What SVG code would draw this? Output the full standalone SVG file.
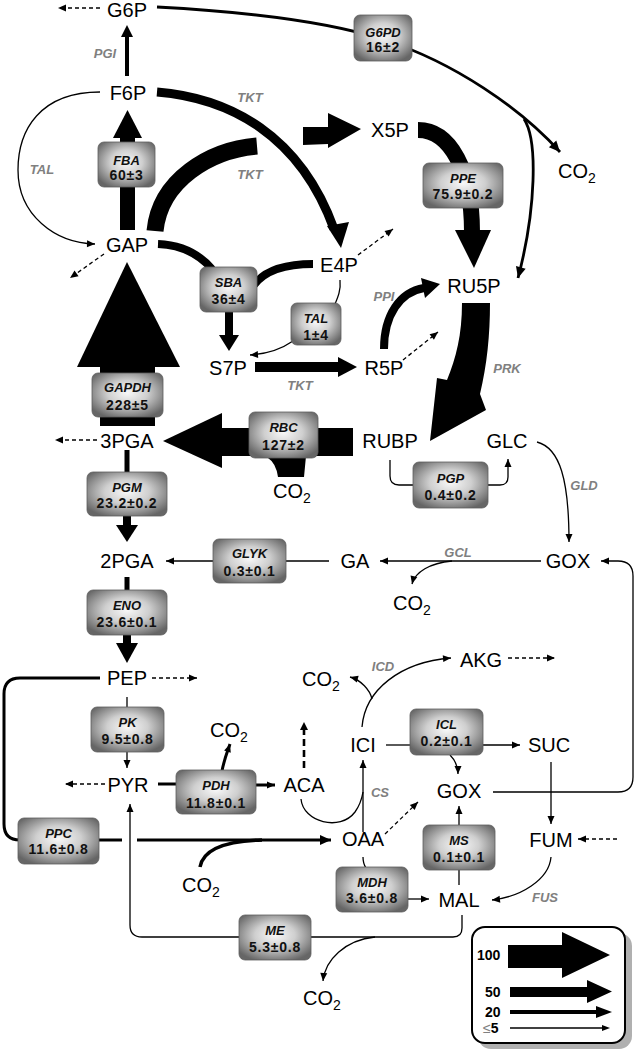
<svg xmlns="http://www.w3.org/2000/svg" width="637" height="1050" viewBox="0 0 637 1050">
<defs>
<radialGradient id="bg" cx="50%" cy="45%" r="62%">
<stop offset="0" stop-color="#f8f8f8"/>
<stop offset="0.45" stop-color="#cfcfcf"/>
<stop offset="1" stop-color="#666"/>
</radialGradient>
<marker id="a1" markerUnits="userSpaceOnUse" markerWidth="9" markerHeight="8" refX="8" refY="3.5" orient="auto" overflow="visible">
<path d="M0,0 L8,3.5 L0,7 Z" fill="#000"/>
</marker>
<marker id="a2" markerUnits="userSpaceOnUse" markerWidth="13" markerHeight="12" refX="11" refY="5" orient="auto" overflow="visible">
<path d="M0,0 L11,5 L0,10 Z" fill="#000"/>
</marker>
<style>
.n{font-family:"Liberation Sans",Arial,sans-serif;font-size:20px;fill:#000;text-anchor:middle}
.c{font-family:"Liberation Sans",Arial,sans-serif;font-size:20px;fill:#000}
.e{font-family:"Liberation Sans",Arial,sans-serif;font-size:13px;font-style:italic;font-weight:bold;fill:#808080;text-anchor:middle}
.bn{font-family:"Liberation Sans",Arial,sans-serif;font-size:13px;font-style:italic;font-weight:bold;fill:#111;text-anchor:middle}
.bv{font-family:"Liberation Sans",Arial,sans-serif;font-size:14px;font-weight:bold;fill:#111;text-anchor:middle;letter-spacing:0.8px}
.box{fill:url(#bg);stroke:#5e5e5e;stroke-width:0.8}
.t{fill:none;stroke:#000;stroke-width:1.3}
.m{fill:none;stroke:#000;stroke-width:3}
.d{fill:none;stroke:#000;stroke-width:1.3;stroke-dasharray:4,3}
.k{fill:none;stroke:#000;stroke-linecap:butt}
.lg{font-family:"Liberation Sans",Arial,sans-serif;font-size:14px;font-weight:bold;fill:#000}
</style>
</defs>
<rect width="637" height="1050" fill="#fff"/>

<g id="connectors">
<path class="d" d="M100,8 L58,8" marker-end="url(#a1)"/>
<path class="d" d="M104,254 L70,278" marker-end="url(#a1)"/>
<path class="d" d="M358,255 L393,229" marker-end="url(#a1)"/>
<path class="d" d="M403,360 L438,332" marker-end="url(#a1)"/>
<path class="d" d="M97,440 L55,440" marker-end="url(#a1)"/>
<path class="d" d="M152,678 L197,678" marker-end="url(#a1)"/>
<path class="d" d="M105,784 L65,784" marker-end="url(#a1)"/>
<path class="d" d="M508,658 L555,658" marker-end="url(#a1)"/>
<path class="d" d="M617,839 L578,839" marker-end="url(#a1)"/>
<path class="d" d="M385,834 L418,802" marker-end="url(#a1)"/>
<path fill="none" stroke="#000" stroke-width="2.6" stroke-dasharray="7,4" d="M304,768 L304,728"/>
<path d="M300,730 L304,722 L308,730 Z" fill="#000"/>

<path class="k" stroke-width="4" d="M127,76 L127,36"/>
<path d="M121,37 L127,25 L133,37 Z" fill="#000"/>

<path fill="none" stroke="#000" stroke-width="2.8" d="M157,7 C250,12 330,22 385,40 C455,63 520,108 560,152" marker-end="url(#a2)"/>
<path fill="none" stroke="#000" stroke-width="2.8" d="M524,119 C538,140 536,210 518,278" marker-end="url(#a2)"/>

<path class="t" d="M100,92 C40,92 18,130 18,170 C18,215 55,243 95,244" marker-end="url(#a1)"/>

<path class="k" stroke-width="9" d="M157,92 C230,98 300,135 334,229"/>
<path d="M327,226 L349,222 L341,248 Z" fill="#000"/>

<rect x="120" y="136" width="15" height="94" fill="#000"/>
<path d="M113,138 L142,138 L127.5,110 Z" fill="#000"/>

<path class="k" stroke-width="17" d="M155,231 C160,180 210,150 257,146"/>
<path d="M303,127 L328,127 L328,113 L361,129 L328,148 L328,144 L303,145 Z" fill="#000"/>

<path class="k" stroke-width="16" d="M418,130 C450,130 472,170 472,232"/>
<path d="M455,230 L491,230 L474,268 Z" fill="#000"/>

<path class="k" stroke-width="8" d="M158,244 C183,245 200,255 212,269"/>
<path class="k" stroke-width="8" d="M313,264 C285,264 265,270 254,285"/>
<rect x="225" y="311" width="8" height="25" fill="#000"/>
<path d="M219,335 L239,335 L229,351 Z" fill="#000"/>

<path class="t" d="M340,280 C341,290 338,297 335,304"/>
<path class="t" d="M293,341 C280,350 266,354 250,355" marker-end="url(#a1)"/>

<rect x="255" y="362" width="84" height="10" fill="#000"/>
<path d="M338,357 L357,367 L338,377 Z" fill="#000"/>

<path class="k" stroke-width="8" d="M384,349 C384,315 400,292 424,288"/>
<path d="M421,278 L440,284 L425,298 Z" fill="#000"/>

<path d="M462,303 L490,303 C490,335 487,365 480,394 L486,410 L430,441 L437,378 L447,380 C456,358 462,335 462,303 Z" fill="#000"/>

<rect x="100" y="365" width="55" height="61" fill="#000"/>
<path d="M77,367 L180,367 L127,262 Z" fill="#000"/>

<rect x="221" y="428" width="132" height="28" fill="#000"/>
<path d="M222,413 L222,468 L163,441 Z" fill="#000"/>
<path d="M268,456 L306,456 L304,477 L278,477 Q276,463 268,458 Z" fill="#000"/>

<path class="k" stroke-width="5" d="M127,450 L127,473"/>
<rect x="123" y="515" width="8" height="11" fill="#000"/>
<path d="M116,525 L138,525 L127,542 Z" fill="#000"/>

<path class="t" d="M329,561 L286,561"/>
<path class="t" d="M213,561 L166,561" marker-end="url(#a1)"/>
<path class="t" d="M541,561 L380,561" marker-end="url(#a1)"/>
<path class="t" d="M452,561 C430,563 415,572 412,584" marker-end="url(#a1)"/>
<path class="t" d="M537,442 C560,448 569,480 569,542" marker-end="url(#a1)"/>

<path class="k" stroke-width="5" d="M127,577 L127,591"/>
<rect x="123" y="634" width="8" height="10" fill="#000"/>
<path d="M116,643 L138,643 L127,663 Z" fill="#000"/>

<path class="m" d="M100,678 L20,678 Q4,678 4,694 L4,824 Q4,840 20,840"/>
<path class="m" d="M99,840 L122,840"/>
<path class="m" d="M137,840 L331,840" marker-end="url(#a2)"/>
<path fill="none" stroke="#000" stroke-width="3.5" d="M200,867 C203,850 225,841 262,840"/>

<path class="t" stroke-width="1.5" d="M127,697 L127,708"/>
<path class="t" d="M127,752 L127,768" marker-end="url(#a1)"/>

<path class="m" d="M158,784 L177,784"/>
<path class="m" d="M255,785 L275,785" marker-end="url(#a1)"/>
<path class="m" d="M222,771 C224,760 227,753 230,744" marker-end="url(#a1)"/>

<path class="t" d="M301,799 C303,822 340,832 355,812 C360,805 362,798 363,792"/>
<path class="t" stroke-width="1.5" d="M363,832 L363,760" marker-end="url(#a1)"/>

<path class="t" stroke-width="1.5" d="M362,727 C365,690 400,662 451,658" marker-end="url(#a1)"/>
<path class="t" stroke-width="1.5" d="M372,699 C370,690 361,680 350,677" marker-end="url(#a1)"/>

<path class="t" stroke-width="1.5" d="M386,745 L411,745"/>
<path class="t" stroke-width="1.5" d="M482,745 L520,745" marker-end="url(#a1)"/>
<path class="t" stroke-width="1.5" d="M450,755 C455,760 458,765 458,774" marker-end="url(#a1)"/>

<path class="t" d="M551,762 L551,824" marker-end="url(#a1)"/>

<path class="t" d="M493,792 L618,792 Q633,792 633,777 L633,576 Q633,561 618,561 L601,561" marker-end="url(#a1)"/>

<path class="t" d="M551,857 C549,880 520,897 492,900" marker-end="url(#a1)"/>

<path class="t" d="M459,885 L459,869"/>
<path class="t" d="M459,826 L459,806" marker-end="url(#a1)"/>

<path class="t" d="M363,857 C363,862 364,865 366,868"/>
<path class="t" d="M407,899 L429,899" marker-end="url(#a1)"/>

<path class="t" d="M462,915 L462,928 Q462,937 453,937 L311,937"/>
<path class="t" d="M240,937 L142,937 Q130,937 130,925 L130,804" marker-end="url(#a1)"/>
<path class="t" d="M375,937 C345,940 325,960 323,981" marker-end="url(#a1)"/>

<path class="t" d="M390,460 L390,476 Q390,485 399,485 L414,485"/>
<path class="t" d="M487,485 L500,485 Q508,485 508,477 L508,459" marker-end="url(#a1)"/>
</g>

<g id="enzymes">
<g id="G6PD"><rect class="box" x="354" y="15" width="58" height="46" rx="6"/><text class="bn" x="383" y="36.6">G6PD</text><text class="bv" x="383" y="52">16±2</text></g>
<g id="FBA"><rect class="box" x="98" y="142" width="57" height="45" rx="6"/><text class="bn" x="126.5" y="164.6">FBA</text><text class="bv" x="126.5" y="180">60±3</text></g>
<g id="PPE"><rect class="box" x="423" y="163" width="80" height="45" rx="6"/><text class="bn" x="463" y="182.6">PPE</text><text class="bv" x="463" y="199">75.9±0.2</text></g>
<g id="SBA"><rect class="box" x="200" y="267" width="57" height="45" rx="6"/><text class="bn" x="228.5" y="286.6">SBA</text><text class="bv" x="228.5" y="304">36±4</text></g>
<g id="TAL"><rect class="box" x="291" y="303" width="50" height="42" rx="6"/><text class="bn" x="316" y="322.6">TAL</text><text class="bv" x="316" y="340">1±4</text></g>
<g id="GAPDH"><rect class="box" x="92" y="373" width="71" height="44" rx="6"/><text class="bn" x="127.5" y="391.6">GAPDH</text><text class="bv" x="127.5" y="410">228±5</text></g>
<g id="RBC"><rect class="box" x="249" y="412" width="69" height="46" rx="6"/><text class="bn" x="283.5" y="432.2">RBC</text><text class="bv" x="283.5" y="450">127±2</text></g>
<g id="PGP"><rect class="box" x="413" y="462" width="75" height="46" rx="6"/><text class="bn" x="450.5" y="482.6">PGP</text><text class="bv" x="450.5" y="500">0.4±0.2</text></g>
<g id="PGM"><rect class="box" x="87" y="472" width="80" height="44" rx="6"/><text class="bn" x="127" y="491.6">PGM</text><text class="bv" x="127" y="508">23.2±0.2</text></g>
<g id="GLYK"><rect class="box" x="213" y="539" width="73" height="44" rx="6"/><text class="bn" x="249.5" y="557.6">GLYK</text><text class="bv" x="249.5" y="576">0.3±0.1</text></g>
<g id="ENO"><rect class="box" x="87" y="590" width="80" height="45" rx="6"/><text class="bn" x="127" y="609.6">ENO</text><text class="bv" x="127" y="627">23.6±0.1</text></g>
<g id="PK"><rect class="box" x="91" y="707" width="73" height="45" rx="6"/><text class="bn" x="127.5" y="726.6">PK</text><text class="bv" x="127.5" y="744">9.5±0.8</text></g>
<g id="ICL"><rect class="box" x="410" y="709" width="73" height="46" rx="6"/><text class="bn" x="446.5" y="728.6">ICL</text><text class="bv" x="446.5" y="746">0.2±0.1</text></g>
<g id="PDH"><rect class="box" x="176" y="770" width="80" height="44" rx="6"/><text class="bn" x="216" y="789.6">PDH</text><text class="bv" x="216" y="808">11.8±0.1</text></g>
<g id="PPC"><rect class="box" x="18" y="818" width="81" height="46" rx="6"/><text class="bn" x="58.5" y="837.6">PPC</text><text class="bv" x="58.5" y="854">11.6±0.8</text></g>
<g id="MS"><rect class="box" x="423" y="825" width="72" height="45" rx="6"/><text class="bn" x="459" y="844.6">MS</text><text class="bv" x="459" y="862">0.1±0.1</text></g>
<g id="MDH"><rect class="box" x="336" y="867" width="72" height="45" rx="6"/><text class="bn" x="372" y="886.6">MDH</text><text class="bv" x="372" y="903">3.6±0.8</text></g>
<g id="ME"><rect class="box" x="239" y="915" width="72" height="45" rx="6"/><text class="bn" x="275" y="934.6">ME</text><text class="bv" x="275" y="952">5.3±0.8</text></g>
</g>

<g id="labels">
<text class="e" x="105" y="57.5">PGI</text>
<text class="e" x="250" y="102">TKT</text>
<text class="e" x="42" y="174">TAL</text>
<text class="e" x="250" y="179">TKT</text>
<text class="e" x="300" y="390">TKT</text>
<text class="e" x="384" y="300.5">PPI</text>
<text class="e" x="507" y="372.5">PRK</text>
<text class="e" x="584" y="490">GLD</text>
<text class="e" x="458" y="556.5">GCL</text>
<text class="e" x="383" y="670.5">ICD</text>
<text class="e" x="380" y="796.5">CS</text>
<text class="e" x="545" y="901.5">FUS</text>
</g>

<g id="metabolites">
<g id="n-G6P"><text class="n" x="127" y="16.5">G6P</text></g>
<g id="n-F6P"><text class="n" x="128" y="100">F6P</text></g>
<g id="n-GAP"><text class="n" x="127" y="252">GAP</text></g>
<g id="n-X5P"><text class="n" x="390" y="137">X5P</text></g>
<g id="n-E4P"><text class="n" x="339" y="272">E4P</text></g>
<g id="n-RU5P"><text class="n" x="474" y="293">RU5P</text></g>
<g id="n-S7P"><text class="n" x="228" y="375">S7P</text></g>
<g id="n-R5P"><text class="n" x="384" y="375">R5P</text></g>
<g id="n-3PGA"><text class="n" x="127" y="448">3PGA</text></g>
<g id="n-RUBP"><text class="n" x="390" y="448">RUBP</text></g>
<g id="n-GLC"><text class="n" x="507" y="448">GLC</text></g>
<g id="n-2PGA"><text class="n" x="127" y="568">2PGA</text></g>
<g id="n-GA"><text class="n" x="355" y="568">GA</text></g>
<g id="n-GOX1"><text class="n" x="568" y="568">GOX</text></g>
<g id="n-PEP"><text class="n" x="127" y="685">PEP</text></g>
<g id="n-AKG"><text class="n" x="481" y="667">AKG</text></g>
<g id="n-PYR"><text class="n" x="128" y="792">PYR</text></g>
<g id="n-ACA"><text class="n" x="304" y="792">ACA</text></g>
<g id="n-ICI"><text class="n" x="363" y="752">ICI</text></g>
<g id="n-SUC"><text class="n" x="549" y="752">SUC</text></g>
<g id="n-GOX2"><text class="n" x="459" y="798">GOX</text></g>
<g id="n-OAA"><text class="n" x="363" y="846">OAA</text></g>
<g id="n-FUM"><text class="n" x="551" y="847">FUM</text></g>
<g id="n-MAL"><text class="n" x="459" y="907">MAL</text></g>
<g id="n-CO2a"><text class="c" x="558" y="178">CO<tspan font-size="14" dy="5">2</tspan></text></g>
<g id="n-CO2b"><text class="c" x="273" y="498">CO<tspan font-size="14" dy="5">2</tspan></text></g>
<g id="n-CO2c"><text class="c" x="393" y="610">CO<tspan font-size="14" dy="5">2</tspan></text></g>
<g id="n-CO2d"><text class="c" x="302" y="686">CO<tspan font-size="14" dy="5">2</tspan></text></g>
<g id="n-CO2e"><text class="c" x="210" y="737">CO<tspan font-size="14" dy="5">2</tspan></text></g>
<g id="n-CO2f"><text class="c" x="182" y="892">CO<tspan font-size="14" dy="5">2</tspan></text></g>
<g id="n-CO2g"><text class="c" x="303" y="1005">CO<tspan font-size="14" dy="5">2</tspan></text></g>
</g>

<g id="legend">
<rect x="478" y="933" width="154" height="116" rx="13" fill="#b0b0b0"/>
<rect x="472" y="927" width="153" height="116" rx="13" fill="#fff" stroke="#000" stroke-width="2"/>
<text class="lg" x="477" y="960">100</text>
<path d="M508,945 L562,945 L562,932 L610,955 L562,978 L562,968 L508,968 Z" fill="#000"/>
<text class="lg" x="485" y="997">50</text>
<path d="M510,987 L587,987 L587,980 L612,991.5 L587,1003 L587,997 L510,997 Z" fill="#000"/>
<text class="lg" x="485" y="1017">20</text>
<path d="M510,1012 L598,1012" stroke="#000" stroke-width="4"/>
<path d="M596,1006 L612,1012 L596,1018 Z" fill="#000"/>
<text class="lg" x="483" y="1033"><tspan fill="#808080" font-weight="normal">≤</tspan>5</text>
<path d="M510,1028 L603,1028" stroke="#000" stroke-width="1.3"/>
<path d="M602,1025 L610,1028 L602,1031 Z" fill="#000"/>
</g>
</svg>
